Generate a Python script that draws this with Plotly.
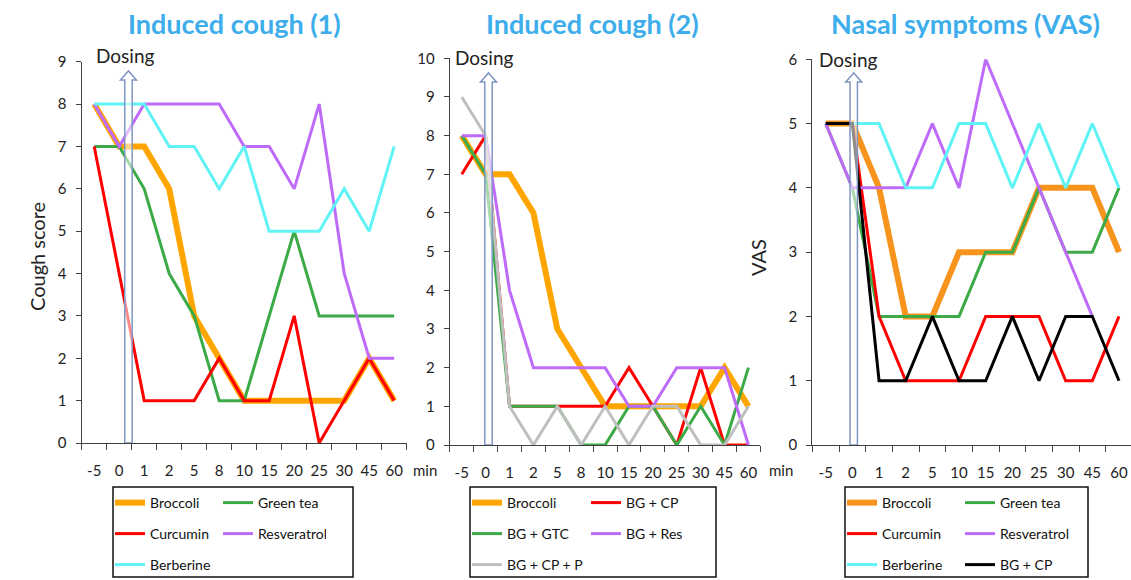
import plotly.graph_objects as go

W, H = 1131, 580

# ---------------- data ----------------
cats12 = ["-5", "0", "1", "2", "5", "8", "10", "15", "20", "25", "30", "45", "60"]
cats3 = ["-5", "0", "1", "2", "5", "10", "15", "20", "25", "30", "45", "60"]

p1_broccoli = [8, 7, 7, 6, 3, 2, 1, 1, 1, 1, 1, 2, 1]
p1_green = [7, 7, 6, 4, 3, 1, 1, 3, 5, 3, 3, 3, 3]
p1_curcumin = [7, 4, 1, 1, 1, 2, 1, 1, 3, 0, 1, 2, 1]
p1_resveratrol = [8, 7, 8, 8, 8, 8, 7, 7, 6, 8, 4, 2, 2]
p1_berberine = [8, 8, 8, 7, 7, 6, 7, 5, 5, 5, 6, 5, 7]

p2_broccoli = [8, 7, 7, 6, 3, 2, 1, 1, 1, 1, 1, 2, 1]
p2_bg_cp = [7, 8, 1, 1, 1, 1, 1, 2, 1, 0, 2, 0, 0]
p2_bg_gtc = [8, 7, 1, 1, 1, 0, 0, 1, 1, 0, 1, 0, 2]
p2_bg_res = [8, 8, 4, 2, 2, 2, 2, 1, 1, 2, 2, 2, 0]
p2_bg_cp_p = [9, 8, 1, 0, 1, 0, 1, 0, 1, 1, 0, 0, 1]

p3_broccoli = [5, 5, 4, 2, 2, 3, 3, 3, 4, 4, 4, 3]
p3_green = [5, 4, 2, 2, 2, 2, 3, 3, 4, 3, 3, 4]
p3_curcumin = [5, 5, 2, 1, 1, 1, 2, 2, 2, 1, 1, 2]
p3_resveratrol = [5, 4, 4, 4, 5, 4, 6, None, None, None, 2, None]
p3_berberine = [5, 5, 5, 4, 4, 5, 5, 4, 5, 4, 5, 4]
p3_bg_cp = [5, 5, 1, 1, 2, 1, 1, 2, 1, 2, 2, 1]

titles = ["Induced cough (1)", "Induced cough (2)", "Nasal symptoms (VAS)"]

# ---------------- styles ----------------
FONT = "Lato, 'Open Sans', sans-serif"
ORANGE = "#FFA500"
ORANGE3 = "#F7941D"
GREEN = "#3DAA48"
RED = "#FF0000"
PURPLE = "#BF6BFA"
CYAN = "#5FF3F5"
GRAY = "#BFBFBF"
BLACK = "#000000"
AXC = "#404040"
TITLEC = "#3DADEB"


def px(x):
    return x / W


def py(y):
    return 1 - y / H


fig = go.Figure()

panels = [
    dict(x0=81.7, x1=406.7, y0=443, y1=61.7, ymax=9, cats=cats12, xr=[-0.5, 12.5]),
    dict(x0=449.8, x1=760.4, y0=445, y1=58.3, ymax=10, cats=cats12, xr=[-0.5, 12.5]),
    dict(x0=812.4, x1=1131, y0=445, y1=59.3, ymax=6, cats=cats3, xr=[-0.5, 11.45]),
]

series = [
    [("Broccoli", p1_broccoli, ORANGE, 6, 1), ("Green tea", p1_green, GREEN, 3, 1),
     ("Curcumin", p1_curcumin, RED, 3, 2), ("Resveratrol", p1_resveratrol, PURPLE, 3, 2),
     ("Berberine", p1_berberine, CYAN, 3, 3)],
    [("Broccoli", p2_broccoli, ORANGE, 6, 4), ("BG + CP", p2_bg_cp, RED, 3, 4),
     ("BG + GTC", p2_bg_gtc, GREEN, 3, 5), ("BG + Res", p2_bg_res, PURPLE, 3, 5),
     ("BG + CP + P", p2_bg_cp_p, GRAY, 3, 6)],
    [("Broccoli", p3_broccoli, ORANGE3, 6, 7), ("Green tea", p3_green, GREEN, 3, 7),
     ("Curcumin", p3_curcumin, RED, 3, 8), ("Resveratrol", p3_resveratrol, PURPLE, 3, 8),
     ("Berberine", p3_berberine, CYAN, 3, 9), ("BG + CP", p3_bg_cp, BLACK, 3, 9)],
]

for i, (pan, ser) in enumerate(zip(panels, series)):
    sfx = "" if i == 0 else str(i + 1)
    xs = list(range(len(pan["cats"])))
    for name, vals, col, lw, leg in ser:
        fig.add_trace(go.Scatter(
            x=xs, y=vals, mode="lines", name=name,
            line=dict(color=col, width=lw), connectgaps=True,
            xaxis="x" + sfx, yaxis="y" + sfx,
            legend="legend" if leg == 1 else "legend" + str(leg),
            hoverinfo="skip",
        ))
    n = len(pan["cats"])
    fig.layout["xaxis" + sfx] = dict(
        domain=[px(pan["x0"]), min(1.0, px(pan["x1"]))], range=pan["xr"], anchor="y" + sfx,
        tickmode="array", tickvals=xs, ticktext=pan["cats"], ticks="",
        showline=True, linecolor=AXC, linewidth=1.3, showgrid=False, zeroline=False,
        tickfont=dict(family=FONT, size=15, color="#222"), ticklabelstandoff=14,
        minor=dict(tickmode="array", tickvals=[k - 0.5 for k in range(n + 1)],
                   ticks="outside", ticklen=6, tickcolor=AXC, tickwidth=1.3),
        fixedrange=True, automargin=False,
    )
    fig.layout["yaxis" + sfx] = dict(
        domain=[py(pan["y0"]), py(pan["y1"])], range=[0, pan["ymax"]], anchor="x" + sfx,
        dtick=1, ticks="outside", ticklen=5, tickcolor=AXC, tickwidth=1.3,
        showline=True, linecolor=AXC, linewidth=1.3, showgrid=False, zeroline=False,
        tickfont=dict(family=FONT, size=15, color="#222"), ticklabelstandoff=6,
        fixedrange=True, automargin=False,
    )

# dosing arrows (pixel-sized shapes anchored at data positions)
arrow_x = [1.37, 1.12, 1.05]
arrow_path = "M -3.7,0 L -3.7,363 L -8,363 L 0,372 L 8,363 L 3.7,363 L 3.7,0 Z"
for i, ax in enumerate(arrow_x):
    sfx = "" if i == 0 else str(i + 1)
    fig.add_shape(type="path", xref="x" + sfx, yref="y" + sfx,
                  xsizemode="pixel", ysizemode="pixel", xanchor=ax, yanchor=0,
                  path=arrow_path, line=dict(color="#7F96C2", width=1.5),
                  fillcolor="rgba(255,255,255,0.55)", layer="above")

ann = []


def label(text, x, y, size, color="#222", angle=0):
    ann.append(dict(text=text, x=px(x), y=py(y), xref="paper", yref="paper",
                    xanchor="center", yanchor="middle", textangle=angle,
                    showarrow=False, font=dict(family=FONT, size=size, color=color)))


for t, cx in zip(titles, [234, 592, 965]):
    label("<b>%s</b>" % t, cx, 24, 27, TITLEC)
for cx, cy in [(125, 55), (484, 58), (848, 59)]:
    label("Dosing", cx, cy, 19)
for cx in [425, 781]:
    label("min", cx, 470, 15)
label("Cough score", 37, 257, 20, angle=-90)
label("VAS", 758, 258, 20, angle=-90)

# legend boxes and rows
boxes = [(113, 353, 258), (470, 716, 626), (845, 1088, 1000)]
for x0, x1, _ in boxes:
    fig.add_shape(type="rect", xref="paper", yref="paper", x0=px(x0), x1=px(x1),
                  y0=py(577), y1=py(487), line=dict(color="#111", width=1.5),
                  fillcolor="rgba(0,0,0,0)")

rows_y = [503, 534, 565]
k = 1
for x0, x1, col2 in boxes:
    lx = x0 - 3
    ew = col2 - (lx + 40) - 45
    for ry in rows_y:
        key = "legend" if k == 1 else "legend" + str(k)
        fig.layout[key] = dict(
            orientation="h", xref="paper", yref="paper",
            x=px(lx), xanchor="left", y=py(ry), yanchor="middle",
            entrywidth=ew, entrywidthmode="pixels", bgcolor="rgba(0,0,0,0)",
            borderwidth=0, font=dict(family=FONT, size=14, color="#111"),
            traceorder="normal", itemclick=False, itemdoubleclick=False,
        )
        k += 1

fig.update_layout(
    width=W, height=H, margin=dict(l=0, r=0, t=0, b=0, autoexpand=False),
    paper_bgcolor="white", plot_bgcolor="white",
    annotations=ann, showlegend=True,
)

fig.write_html(
    "out.html",
    config={"displayModeBar": False, "staticPlot": False},
    post_script="document.body.style.margin='0';document.body.style.overflow='hidden';",
)
